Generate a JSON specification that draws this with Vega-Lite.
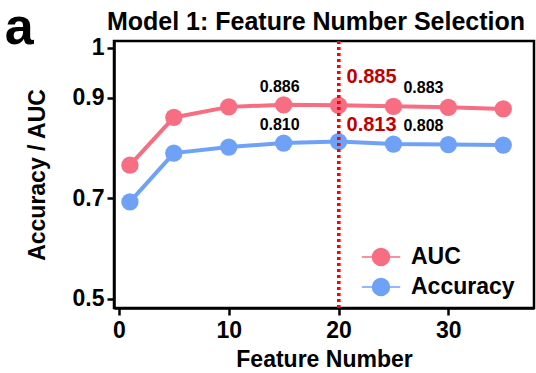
{
  "$schema": "https://vega.github.io/schema/vega-lite/v6.json",
  "padding": {"left": 4, "top": 2, "right": 0, "bottom": 0},
  "config": {
    "font": "Liberation Sans",
    "view": {"stroke": "black", "strokeWidth": 2.5},
    "axis": {"grid": false, "domainColor": "black", "domainWidth": 2.5, "tickColor": "black", "tickWidth": 2.5, "tickSize": 7, "labelFont": "Liberation Sans", "labelFontWeight": "bold", "labelFontSize": 23, "labelColor": "black", "titleFont": "Liberation Sans", "titleFontWeight": "bold", "titleFontSize": 23, "titleColor": "black"}
  },
  "title": {"text": "a", "anchor": "start", "frame": "bounds", "fontSize": 52, "fontWeight": "bold", "font": "Liberation Sans", "color": "black", "offset": -47, "dx": -20},
  "vconcat": [
    {
      "width": 420,
      "height": 267,
      "title": {"text": "Model 1: Feature Number Selection", "anchor": "middle", "fontSize": 25, "fontWeight": "bold", "font": "Liberation Sans", "color": "black", "offset": 2, "dx": -8},
      "data": {"values": [
        {"n": 1, "metric": "AUC", "value": 0.766},
        {"n": 5, "metric": "AUC", "value": 0.861},
        {"n": 10, "metric": "AUC", "value": 0.882},
        {"n": 15, "metric": "AUC", "value": 0.886},
        {"n": 20, "metric": "AUC", "value": 0.885},
        {"n": 25, "metric": "AUC", "value": 0.883},
        {"n": 30, "metric": "AUC", "value": 0.881},
        {"n": 35, "metric": "AUC", "value": 0.878},
        {"n": 1, "metric": "Accuracy", "value": 0.693},
        {"n": 5, "metric": "Accuracy", "value": 0.790},
        {"n": 10, "metric": "Accuracy", "value": 0.802},
        {"n": 15, "metric": "Accuracy", "value": 0.810},
        {"n": 20, "metric": "Accuracy", "value": 0.813},
        {"n": 25, "metric": "Accuracy", "value": 0.808},
        {"n": 30, "metric": "Accuracy", "value": 0.807},
        {"n": 35, "metric": "Accuracy", "value": 0.806}
      ]},
      "encoding": {
        "x": {"field": "n", "type": "quantitative", "scale": {"domain": [-0.45, 37.8], "nice": false, "zero": false}, "axis": {"values": [0, 10, 20, 30], "title": "Feature Number", "labelPadding": 4, "titlePadding": 6}},
        "y": {"field": "value", "type": "quantitative", "scale": {"domain": [0.482, 1.013], "nice": false, "zero": false}, "axis": {"values": [0.5, 0.7, 0.9, 1], "format": "~g", "title": "Accuracy / AUC", "labelPadding": 3, "titlePadding": 23}}
      },
      "layer": [
        {
          "mark": {"type": "line", "strokeWidth": 4},
          "encoding": {"color": {"field": "metric", "type": "nominal", "scale": {"domain": ["AUC", "Accuracy"], "range": ["#F76E82", "#6FA2F7"]},
            "legend": {"title": null, "orient": "none", "legendX": 250, "legendY": 199, "symbolType": "M-1.2,0H1.2M-0.53,0A0.53,0.53,0,1,0,0.53,0A0.53,0.53,0,1,0,-0.53,0Z", "symbolSize": 1024, "symbolStrokeWidth": 1.5, "labelFontSize": 23, "labelFontWeight": "bold", "labelColor": "black", "labelFont": "Liberation Sans", "rowPadding": 1, "labelOffset": 13,
              "encode": {"symbols": {"update": {"stroke": {"scale": "color", "field": "value"}, "fill": {"scale": "color", "field": "value"}, "strokeWidth": {"value": 1.5}, "opacity": {"value": 1}}}}}}}
        },
        {
          "mark": {"type": "point", "filled": true, "size": 300, "opacity": 1},
          "encoding": {"color": {"field": "metric", "type": "nominal", "scale": {"domain": ["AUC", "Accuracy"], "range": ["#F76E82", "#6FA2F7"]},
            "legend": {"title": null, "orient": "none", "legendX": 250, "legendY": 199, "symbolType": "M-1.2,0H1.2M-0.53,0A0.53,0.53,0,1,0,0.53,0A0.53,0.53,0,1,0,-0.53,0Z", "symbolSize": 1024, "symbolStrokeWidth": 1.5, "labelFontSize": 23, "labelFontWeight": "bold", "labelColor": "black", "labelFont": "Liberation Sans", "rowPadding": 1, "labelOffset": 13,
              "encode": {"symbols": {"update": {"stroke": {"scale": "color", "field": "value"}, "fill": {"scale": "color", "field": "value"}, "strokeWidth": {"value": 1.5}, "opacity": {"value": 1}}}}}}}
        },
        {
          "transform": [{"filter": "datum.n == 15"}],
          "mark": {"type": "text", "fontSize": 16, "fontWeight": "bold", "color": "black", "dy": -18, "dx": -4},
          "encoding": {"text": {"field": "value", "type": "quantitative", "format": ".3f"}}
        },
        {
          "transform": [{"filter": "datum.n == 25"}],
          "mark": {"type": "text", "fontSize": 16, "fontWeight": "bold", "color": "black", "dy": -18, "dx": 30},
          "encoding": {"text": {"field": "value", "type": "quantitative", "format": ".3f"}}
        },
        {
          "transform": [{"filter": "datum.n == 20 && datum.metric == 'AUC'"}],
          "mark": {"type": "text", "fontSize": 20, "fontWeight": "bold", "color": "#C00000", "align": "left", "dx": 8, "dy": -28},
          "encoding": {"text": {"field": "value", "type": "quantitative", "format": ".3f"}}
        },
        {
          "transform": [{"filter": "datum.n == 20 && datum.metric == 'Accuracy'"}],
          "mark": {"type": "text", "fontSize": 20, "fontWeight": "bold", "color": "#C00000", "align": "left", "dx": 8, "dy": -17},
          "encoding": {"text": {"field": "value", "type": "quantitative", "format": ".3f"}}
        },
        {
          "mark": {"type": "rule", "color": "#FF0000", "strokeWidth": 3, "strokeDash": [3, 3]},
          "encoding": {"x": {"datum": 20}, "y": null}
        }
      ]
    }
  ]
}
